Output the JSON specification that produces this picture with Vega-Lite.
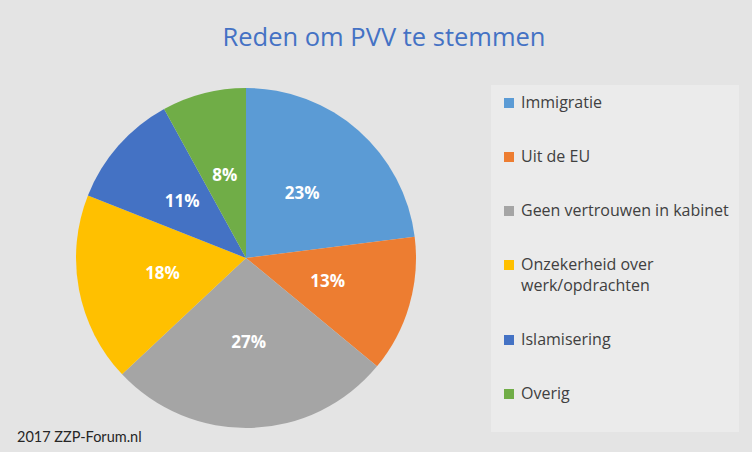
{
  "$schema": "https://vega.github.io/schema/vega-lite/v6.json",
  "width": 340,
  "height": 340,
  "autosize": {"type": "none"},
  "padding": {"left": 76, "top": 88, "right": 336, "bottom": 24},
  "background": "#e4e4e4",
  "title": {
    "text": "Reden om PVV te stemmen",
    "font": "Open Sans",
    "fontSize": 25.5,
    "fontWeight": "normal",
    "color": "#4472C4",
    "anchor": "middle",
    "frame": "group",
    "baseline": "alphabetic",
    "offset": 14,
    "dx": 138
  },
  "config": {
    "view": {"stroke": null},
    "style": {"guide-label": {"lineHeight": 21}}
  },
  "layer": [
    {
      "data": {
        "values": [
          {"idx": 1, "reden": "Immigratie", "pct": 0.23},
          {"idx": 2, "reden": "Uit de EU", "pct": 0.13},
          {"idx": 3, "reden": "Geen vertrouwen in kabinet", "pct": 0.27},
          {"idx": 4, "reden": "Onzekerheid over werk/opdrachten", "pct": 0.18},
          {"idx": 5, "reden": "Islamisering", "pct": 0.11},
          {"idx": 6, "reden": "Overig", "pct": 0.08}
        ]
      },
      "encoding": {
        "theta": {"field": "pct", "type": "quantitative", "stack": true},
        "order": {"field": "idx", "type": "quantitative"}
      },
      "layer": [
        {
          "mark": {"type": "arc", "stroke": null},
          "encoding": {
            "color": {
              "field": "reden",
              "type": "nominal",
              "scale": {
                "domain": ["Immigratie", "Uit de EU", "Geen vertrouwen in kabinet", "Onzekerheid over werk/opdrachten", "Islamisering", "Overig"],
                "range": ["#5B9BD5", "#ED7D31", "#A5A5A5", "#FFC000", "#4472C4", "#70AD47"]
              },
              "legend": {
                "title": " ",
                "titleOrient": "bottom",
                "titleFontSize": 10,
                "titlePadding": 10,
                "orient": "none",
                "legendX": 415,
                "legendY": -3,
                "fillColor": "#ebebeb",
                "padding": 10,
                "symbolType": "square",
                "symbolSize": 100,
                "symbolStrokeWidth": 0,
                "labelFont": "Open Sans",
                "labelFontSize": 16,
                "labelColor": "#404040",
                "labelOffset": 4,
                "labelLimit": 300,
                "rowPadding": 38,
                "labelExpr": "datum.label == 'Onzekerheid over werk/opdrachten' ? ['Onzekerheid over', 'werk/opdrachten'] : datum.label"
              }
            }
          }
        },
        {
          "mark": {"type": "text", "radius": 85, "font": "Open Sans", "fontSize": 17, "fontWeight": "bold", "color": "#ffffff"},
          "encoding": {
            "text": {"field": "pct", "type": "quantitative", "format": ".0%"},
            "detail": {"field": "reden"}
          }
        }
      ]
    },
    {
      "data": {"values": [{"note": "2017 ZZP-Forum.nl"}]},
      "mark": {"type": "text", "align": "left", "baseline": "alphabetic", "font": "Lato", "fontSize": 14.5, "color": "#262626"},
      "encoding": {
        "text": {"field": "note"},
        "x": {"value": -59},
        "y": {"value": 354}
      }
    }
  ]
}
